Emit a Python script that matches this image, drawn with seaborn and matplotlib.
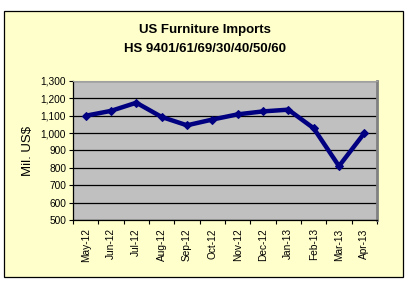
import matplotlib
matplotlib.use("Agg")
import matplotlib.pyplot as plt
import seaborn as sns
import pandas as pd
import numpy as np
from matplotlib.patches import Rectangle

months = ["May-12", "Jun-12", "Jul-12", "Aug-12", "Sep-12", "Oct-12",
          "Nov-12", "Dec-12", "Jan-13", "Feb-13", "Mar-13", "Apr-13"]
imports = [1100, 1128, 1175, 1093, 1045, 1078, 1108, 1125, 1135, 1028, 810, 1000]
yticks = [500, 600, 700, 800, 900, 1000, 1100, 1200, 1300]

sns.set_theme(style="white")
plt.rcParams['font.family'] = ['Liberation Sans', 'DejaVu Sans']
plt.rcParams['text.color'] = 'black'
plt.rcParams['axes.labelcolor'] = 'black'
plt.rcParams['xtick.color'] = 'black'
plt.rcParams['ytick.color'] = 'black'

fig = plt.figure(figsize=(4.1, 2.86), dpi=100)
fig.patch.set_facecolor("white")

bg = fig.add_axes([0, 0, 1, 1], zorder=-1)
bg.set_xlim(0, 1)
bg.set_ylim(0, 1)
bg.axis("off")
bg.add_patch(Rectangle((0.0098, 0.0315), 0.973, 0.93, facecolor="#FFFFCC",
                       edgecolor="black", linewidth=0.9))

ax = fig.add_axes([0.178, 0.2308, 0.7415, 0.486], zorder=1)
ax.set_facecolor("#C0C0C0")

df = pd.DataFrame({"idx": np.arange(len(months)), "value": imports})
sns.lineplot(data=df, x="idx", y="value", ax=ax, color="#000080", linewidth=3.2,
             marker="D", markersize=4, markeredgecolor="#000080", zorder=5)

ax.set_xlim(-0.5, len(months) - 0.5)
ax.set_ylim(500, 1300)
ax.set_yticks(yticks)
ax.set_yticklabels([f"{v:,}" for v in yticks], fontsize=7.3)
ax.set_xticks(np.arange(len(months)))
ax.set_xticklabels(months, rotation=90, fontsize=7.3)
ax.set_xticks(np.arange(len(months) + 1) - 0.5, minor=True)
ax.tick_params(axis="x", which="major", length=0, pad=6)
ax.tick_params(axis="x", which="minor", length=3, width=0.8, color="black", direction="out", bottom=True)
ax.tick_params(axis="y", length=3, width=0.8, color="black", direction="out", left=True, pad=2)
ax.yaxis.grid(True, color="black", linewidth=0.9)
ax.xaxis.grid(False)
ax.set_axisbelow(True)
ax.set_xlabel("")
ax.set_ylabel("Mil. US$", fontsize=9.5, labelpad=5)

for side in ["left", "bottom"]:
    ax.spines[side].set_color("black")
    ax.spines[side].set_linewidth(0.9)
ax.spines["top"].set_color("#A0A0A0")
ax.spines["right"].set_color("#808080")
ax.spines["right"].set_linewidth(2)
ax.spines["top"].set_linewidth(0.8)

fig.text(0.5, 0.895, "US Furniture Imports", ha="center", va="center",
         fontsize=9.5, fontweight="bold", color="black")
fig.text(0.5, 0.83, "HS 9401/61/69/30/40/50/60", ha="center", va="center",
         fontsize=9.5, fontweight="bold", color="black")

fig.savefig("out.png", dpi=100, facecolor=fig.get_facecolor())
